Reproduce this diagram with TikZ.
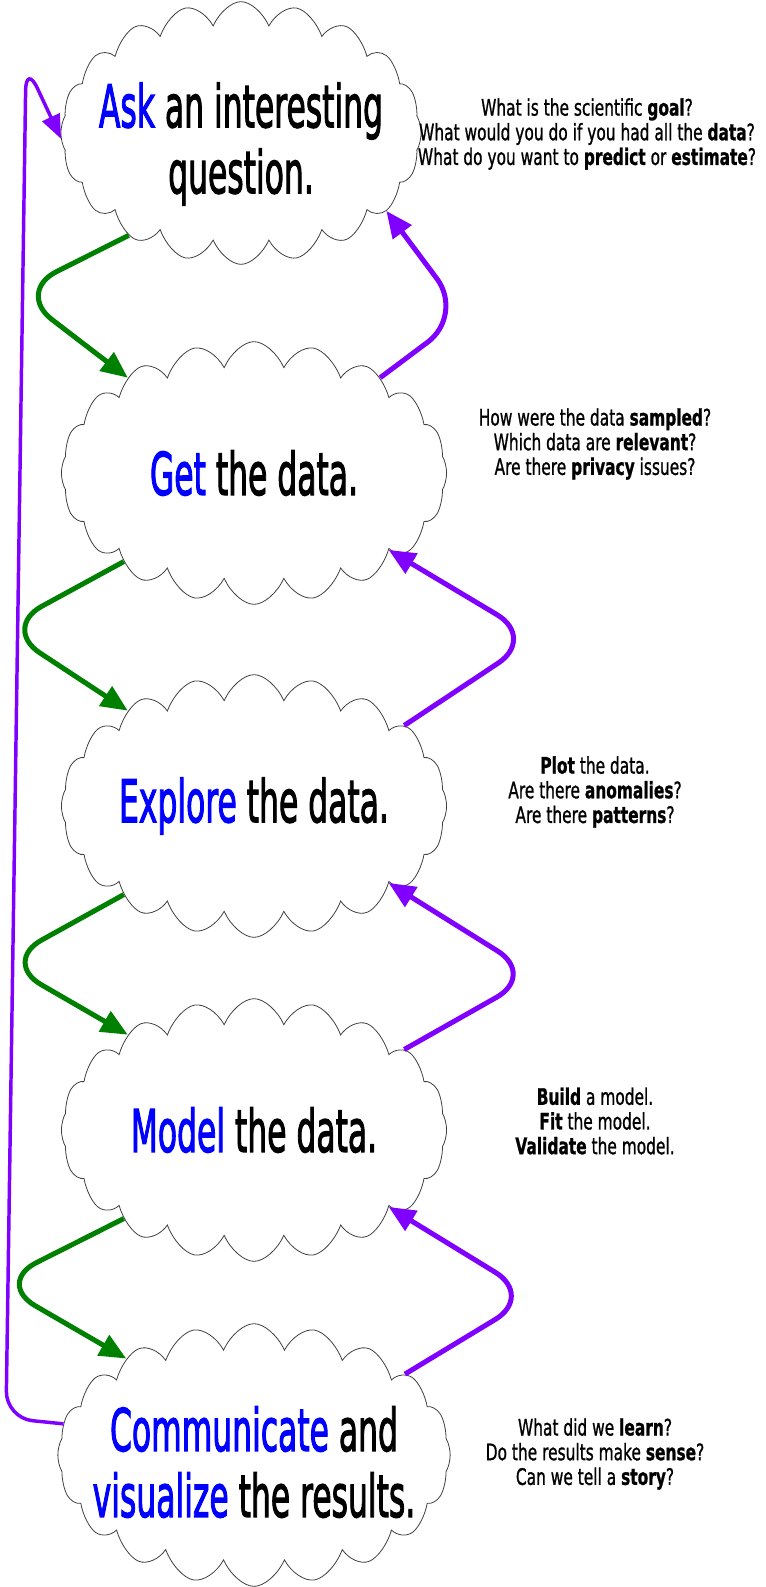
\documentclass[tikz,border=0pt]{standalone}
\usepackage{fontspec}
\setmainfont{DejaVu Sans}
\newfontfamily\cloudfont{DejaVu Sans}[FakeBold=2.5]
\newfontfamily\notefont{DejaVu Sans}[FakeBold=1.2]
\usepackage{tikz}
\usetikzlibrary{shapes.symbols,arrows.meta}

\definecolor{stepblue}{RGB}{0,0,255}
\definecolor{fwdgreen}{RGB}{0,128,0}
\definecolor{backpurple}{RGB}{128,0,255}

\begin{document}
\begin{tikzpicture}[x=0.75pt,y=-0.75pt,
	stepcloud/.style={cloud, cloud puffs=20, cloud puff arc=100, cloud ignores aspect, draw=black!75, line width=0.6pt, fill=white, minimum width=540pt, minimum height=197pt, inner xsep=-150pt, inner ysep=0pt, xscale=0.535, align=center, font=\cloudfont\fontsize{44}{49.5}\selectfont},
	note/.style={align=center, xscale=0.68, font=\notefont\fontsize{17}{18.5}\selectfont},
	fwd/.style={draw=fwdgreen, line width=3.75pt, rounded corners=34pt, -{Triangle[length=20pt,width=17pt]}},
	back/.style={draw=backpurple, line width=3.75pt, rounded corners=34pt, -{Triangle[length=20pt,width=17pt]}},
	restart/.style={draw=backpurple, line width=2.6pt, rounded corners=20pt, -{Triangle[length=18pt,width=14pt]}}]
	\useasboundingbox (0,0) rectangle (765,1587);

	\node[stepcloud, minimum width=505pt] (ask) at (241,133) {\rule{0pt}{50pt}\textcolor{stepblue}{Ask} an interesting\\question.};
	\node[stepcloud] (get) at (254,473) {\textcolor{stepblue}{Get} the data.};
	\node[stepcloud] (explore) at (254,806) {\textcolor{stepblue}{Explore} the data.};
	\node[stepcloud] (model) at (254,1130) {\textcolor{stepblue}{Model} the data.};
	\node[stepcloud, minimum width=550pt] (comm) at (254,1455) {\rule{0pt}{44pt}\textcolor{stepblue}{Communicate} and\\\textcolor{stepblue}{visualize} the results.};

	\node[note] (qa) at (587,134) {What is the scientific \textbf{goal}?\\What would you do if you had all the \textbf{data}?\\What do you want to \textbf{predict} or \textbf{estimate}?};
	\node[note] (qg) at (595,444) {How were the data \textbf{sampled}?\\Which data are \textbf{relevant}?\\Are there \textbf{privacy} issues?};
	\node[note] (qe) at (595,792) {\textbf{Plot} the data.\\Are there \textbf{anomalies}?\\Are there \textbf{patterns}?};
	\node[note] (qm) at (595,1121) {\textbf{Build} a model.\\\textbf{Fit} the model.\\\textbf{Validate} the model.};
	\node[note] (qc) at (595,1454) {What did we \textbf{learn}?\\Do the results make \textbf{sense}?\\Can we tell a \textbf{story}?};

	\coordinate (g1) at (16,292);
	\coordinate (g2) at (2,628);
	\coordinate (g3) at (2,962);
	\coordinate (g4) at (-4,1283);
	\coordinate (p1) at (464,315);
	\coordinate (p2) at (536,638);
	\coordinate (p3) at (536,975);
	\coordinate (p4) at (534,1296);
	\coordinate (lb) at (6,1418);
	\coordinate (lt) at (26,64);

	\draw[fwd] (ask.206) -- (g1) -- (get.158);
	\draw[fwd] (get.200) -- (g2) -- (explore.158);
	\draw[fwd] (explore.200) -- (g3) -- (model.158);
	\draw[fwd] (model.200) -- (g4) -- (comm.158);

	\draw[back] (get.22) -- (p1) -- (ask.344);
	\draw[back] (explore.16) -- (p2) -- (get.343);
	\draw[back] (model.16) -- (p3) -- (explore.343);
	\draw[back] (comm.16) -- (p4) -- (model.343);

	\draw[restart] (comm.175) -- (lb) -- (lt) -- (ask.181);
\end{tikzpicture}
\end{document}
